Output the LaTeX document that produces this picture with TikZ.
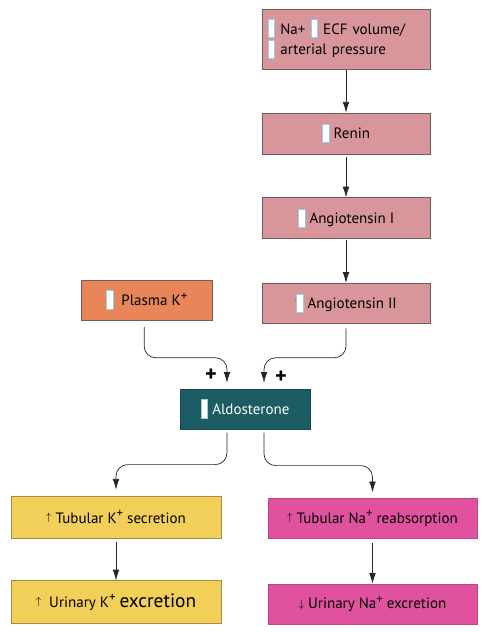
\documentclass[tikz,border=0pt]{standalone}
\usepackage{fontspec}
\setmainfont{PT Sans}
\usepackage{amsmath,amssymb}
\usepackage{tikz}
\usetikzlibrary{positioning,arrows.meta,calc}
\definecolor{RaasPink}{RGB}{216,150,155}
\definecolor{RaasEdge}{RGB}{115,92,94}
\definecolor{PotOrange}{RGB}{232,134,90}
\definecolor{AldoTeal}{RGB}{28,92,100}
\definecolor{KYellow}{RGB}{242,207,88}
\definecolor{KEdge}{RGB}{165,140,70}
\definecolor{NaMagenta}{RGB}{224,82,160}
\definecolor{SlotBlue}{RGB}{150,205,232}
\newcommand{\slotmark}{{\setlength\fboxsep{0pt}\setlength\fboxrule{0.8pt}\fcolorbox{SlotBlue}{white}{\rule[-0.4ex]{0pt}{2.3ex}\hspace{5pt}}}}
\newcommand{\upmark}{\raisebox{0.4ex}{\small$\uparrow$}}
\newcommand{\downmark}{\raisebox{0.1ex}{\small$\downarrow$}}
\newcommand{\ionplus}{\raisebox{0.7ex}{\fontsize{11}{11}\selectfont+}}
\tikzset{
  raas/.style={rectangle, draw=RaasEdge, fill=RaasPink, align=center,
    minimum width=5.04cm, minimum height=1.23cm, font=\fontsize{12.8}{15}\selectfont},
  potass/.style={rectangle, draw=RaasEdge, fill=PotOrange, align=center,
    minimum width=3.93cm, minimum height=1.2cm, font=\fontsize{12.8}{15}\selectfont},
  hormone/.style={rectangle, draw=AldoTeal!80!black, fill=AldoTeal, text=white, align=center,
    minimum width=3.9cm, minimum height=1.2cm, font=\fontsize{12.8}{15}\selectfont},
  kbox/.style={rectangle, draw=KEdge, fill=KYellow, align=center,
    minimum width=6.3cm, minimum height=1.27cm, font=\fontsize{12.8}{15}\selectfont},
  nabox/.style={rectangle, draw=NaMagenta!85!black, fill=NaMagenta, align=center,
    minimum width=6.27cm, minimum height=1.2cm, font=\fontsize{12.8}{15}\selectfont},
  arrow/.style={-{Latex[length=3.2mm,width=2mm]}, semithick, draw=black!85},
  sign/.style={font=\fontsize{19}{19}\selectfont\bfseries, inner sep=0pt}
}
\begin{document}
\begin{tikzpicture}[
      link/.style={arrow, rounded corners=0.35cm}
    ]
      \useasboundingbox (0,0) rectangle (14.49,-18.99);
      \node[raas, text width=4.7cm, align=left, minimum height=1.8cm] (ecf) at (10.38,-1.17)
        {\slotmark\ Na+ \slotmark\ ECF volume/\\\slotmark\ arterial pressure};
      \node[raas, below=1.3cm of ecf] (renin) {\slotmark\ Renin};
      \node[raas, below=1.3cm of renin] (angI) {\slotmark\ Angiotensin I};
      \node[raas, below=1.32cm of angI, minimum height=1.2cm] (angII) {\upmark\hspace{-4pt}\slotmark\ Angiotensin II};
      \node[potass] (plasma) at (4.395,-9.0) {\slotmark\ \ Plasma K\ionplus};
      \node[hormone] (aldo) at (7.35,-12.27) {\slotmark\ Aldosterone};
      \node[kbox] (tubK) at (3.48,-15.51) {\upmark\ Tubular K\ionplus\ secretion};
      \node[kbox, below=1.26cm of tubK] (uriK)
        {\upmark\ \ Urinary K\ionplus\ {\fontsize{16.5}{17}\selectfont excretion}};
      \node[nabox] (tubNa) at (11.175,-15.555) {\upmark\ Tubular Na\ionplus\ reabsorption};
      \node[nabox, below=1.35cm of tubNa] (uriNa) {\downmark\ Urinary Na\ionplus\ excretion};
      \node[sign] (plusK) at (6.33,-11.25) {+};
      \node[sign] (plusA) at (8.43,-11.31) {+};

      \draw[arrow, shorten <=0.03cm] (ecf) -- (renin);
      \draw[arrow, shorten <=0.1cm] (renin) -- (angI);
      \draw[arrow, shorten <=0.03cm] (angI) -- (angII);
      \draw[link, shorten <=0.2cm, shorten >=0.18cm] ([xshift=-0.07cm]plasma.south)
        |- ($(aldo.north)+(-0.54,0.93)$) -- ([xshift=-0.54cm]aldo.north);
      \draw[link, shorten <=0.15cm, shorten >=0.18cm] (angII.south)
        |- ($(aldo.north)+(0.57,0.93)$) -- ([xshift=0.57cm]aldo.north);
      \draw[link, shorten <=0.1cm, shorten >=0.18cm] ([xshift=-0.54cm]aldo.south)
        |- ($(tubK.north)+(0,0.93)$) -- (tubK.north);
      \draw[link, shorten <=0.1cm, shorten >=0.18cm] ([xshift=0.57cm]aldo.south)
        |- ($(tubNa.north)+(0,0.98)$) -- (tubNa.north);
      \draw[arrow, shorten <=0.1cm] (tubK) -- (uriK);
      \draw[arrow, shorten <=0.12cm] (tubNa) -- (uriNa);
    \end{tikzpicture}
\end{document}
